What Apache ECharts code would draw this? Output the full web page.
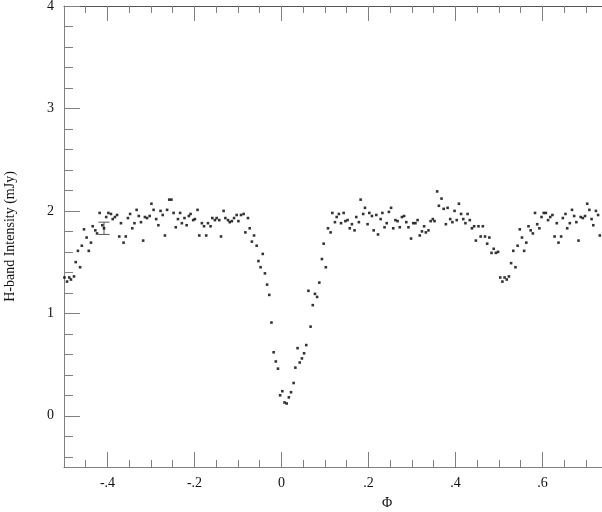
<!DOCTYPE html>
<html>
<head>
<meta charset="utf-8">
<script src="https://cdn.jsdelivr.net/npm/echarts@6/dist/echarts.min.js"></script>
<style>html,body{margin:0;padding:0;background:#fff}#c{width:602px;height:512px}</style>
</head>
<body>
<div id="c"></div>
<script>
// Phase (Φ) of each observation
const phase = [
-0.499,-0.493,-0.488,-0.484,-0.477,-0.473,-0.468,-0.463,-0.459,-0.454,-0.448,-0.443,-0.438,-0.434,-0.428,-0.424,
-0.418,-0.412,-0.408,-0.403,-0.398,-0.392,-0.388,-0.383,-0.378,-0.373,-0.369,-0.363,-0.358,-0.353,-0.348,-0.343,
-0.338,-0.333,-0.328,-0.323,-0.318,-0.314,-0.309,-0.303,-0.299,-0.294,-0.288,-0.283,-0.278,-0.273,-0.268,-0.263,
-0.258,-0.253,-0.248,-0.243,-0.238,-0.233,-0.229,-0.223,-0.218,-0.213,-0.209,-0.203,-0.199,-0.193,-0.189,-0.183,
-0.178,-0.173,-0.169,-0.163,-0.159,-0.153,-0.149,-0.143,-0.139,-0.133,-0.129,-0.123,-0.119,-0.114,-0.109,-0.103,
-0.099,-0.093,-0.087,-0.083,-0.077,-0.073,-0.068,-0.063,-0.057,-0.053,-0.048,-0.043,-0.038,-0.033,-0.028,-0.023,
-0.018,-0.013,-0.008,-0.003,0.002,0.007,0.012,0.017,0.022,0.028,0.032,0.037,0.042,0.047,0.052,0.057,
0.062,0.067,0.072,0.077,0.082,0.087,0.093,0.097,0.102,0.107,0.113,0.117,0.123,0.127,0.132,0.137,
0.143,0.147,0.152,0.157,0.162,0.168,0.172,0.178,0.182,0.188,0.192,0.198,0.202,0.208,0.212,0.218,
0.222,0.228,0.232,0.237,0.242,0.247,0.252,0.257,0.262,0.267,0.272,0.277,0.282,0.287,0.292,0.298,
0.303,0.308,0.313,0.318,0.323,0.328,0.332,0.338,0.343,0.348,0.352,0.358,0.362,0.368,0.373,0.378,
0.382,0.388,0.393,0.398,0.403,0.408,0.413,0.418,0.423,0.428,0.433,0.438,0.443,0.447,0.453,0.458,
0.463,0.468,0.473,0.478,0.483,0.488,0.493,0.498,0.503,0.508,0.513,0.518,0.523,0.528,0.533,0.538,
0.543,0.548,0.553,0.558,0.563,0.568,0.573,0.578,0.583,0.588,0.593,0.598,0.603,0.608,0.613,0.618,
0.623,0.628,0.633,0.637,0.643,0.647,0.653,0.657,0.663,0.668,0.673,0.678,0.683,0.688,0.693,0.698,
0.703,0.708,0.713,0.717,0.723,0.728,0.732
];
// H-band intensity (mJy)
const intensity = [
1.35,1.31,1.35,1.33,1.36,1.50,1.61,1.45,1.66,1.82,1.74,1.61,1.69,1.85,1.81,1.78,
1.98,1.86,1.83,1.94,1.98,1.97,1.92,1.94,1.96,1.75,1.88,1.69,1.75,1.93,1.97,1.83,
1.88,2.01,1.95,1.89,1.71,1.94,1.93,1.95,2.07,2.01,1.92,1.86,2.00,1.96,1.76,2.01,
2.11,2.11,1.98,1.84,1.92,1.98,1.88,1.93,1.86,1.95,1.97,1.91,1.92,2.01,1.76,1.88,
1.85,1.76,1.88,1.85,1.93,1.91,1.93,1.91,1.75,2.00,1.93,1.91,1.89,1.90,1.93,1.96,
1.90,1.96,1.97,1.79,1.93,1.83,1.70,1.76,1.66,1.51,1.45,1.58,1.39,1.28,1.18,0.91,
0.62,0.53,0.46,0.20,0.24,0.13,0.12,0.18,0.23,0.32,0.47,0.66,0.52,0.56,0.61,0.69,
1.22,0.87,1.08,1.19,1.16,1.30,1.53,1.68,1.45,1.83,1.79,1.98,1.89,1.94,1.97,1.88,
1.98,1.90,1.91,1.83,1.87,1.81,1.94,1.89,2.11,1.97,2.03,1.87,1.98,1.95,1.81,1.96,
1.77,1.92,1.98,1.84,1.88,1.99,2.03,1.83,1.91,1.90,1.84,1.94,1.95,1.89,1.84,1.73,
1.88,1.88,1.91,1.76,1.80,1.85,1.79,1.81,1.90,1.92,1.90,2.19,2.05,2.12,2.02,1.87,
2.03,1.92,1.89,2.00,1.91,2.07,1.97,1.92,1.88,1.97,1.91,1.83,1.85,1.71,1.85,1.75,
1.85,1.75,1.68,1.74,1.59,1.63,1.59,1.60,1.35,1.31,1.35,1.33,1.36,1.49,1.61,1.45,
1.66,1.82,1.74,1.61,1.69,1.85,1.81,1.78,1.98,1.87,1.83,1.94,1.98,1.98,1.91,1.94,
1.96,1.75,1.88,1.69,1.75,1.93,1.97,1.83,1.88,2.01,1.95,1.89,1.71,1.94,1.93,1.95,
2.07,2.01,1.92,1.86,2.00,1.96,1.76
];
// representative error bar
const errPhase = [-0.408];
const errLow = [1.77];
const errHigh = [1.89];

// ticks and labels
const xMajorTicks = [-0.4, -0.2, 0, 0.2, 0.4, 0.6];
const xTickLabels = ['-.4', '-.2', '0', '.2', '.4', '.6'];
const xMinorStep = 0.05;
const yMajorTicks = [0, 1, 2, 3, 4];
const yTickLabels = ['0', '1', '2', '3', '4'];
const yMinorTicks = [-0.4,-0.2,0.2,0.4,0.6,0.8,1.2,1.4,1.6,1.8,2.2,2.4,2.6,2.8,3.2,3.4,3.6,3.8];

const X_MIN = -0.5, X_MAX = 0.737, Y_MIN = -0.5, Y_MAX = 4;
const FONT = '"Liberation Serif", "DejaVu Serif", serif';
const AX = '#808080';

function xMajor(pos, labels) {
  return {
    type: 'value', position: pos, min: X_MIN, max: X_MAX,
    axisLine: { show: true, onZero: false, lineStyle: { color: pos === 'top' ? '#555' : AX, width: 1 } },
    axisTick: { show: true, inside: true, length: 15, customValues: xMajorTicks, lineStyle: { color: AX, width: 1 } },
    axisLabel: labels ? {
      show: true, customValues: xMajorTicks, margin: 9, color: '#111', fontFamily: FONT, fontSize: 14,
      formatter: v => { const i = xMajorTicks.findIndex(t => Math.abs(t - v) < 1e-9); return i >= 0 ? xTickLabels[i] : ''; }
    } : { show: false },
    splitLine: { show: false }
  };
}
function xMinor(pos) {
  return {
    type: 'value', position: pos, min: X_MIN, max: X_MAX, interval: xMinorStep,
    axisLine: { show: false, onZero: false },
    axisTick: { show: true, inside: true, length: 7, lineStyle: { color: AX, width: 1 } },
    axisLabel: { show: false },
    splitLine: { show: false }
  };
}
function yAxisDef(ticks, len, line, labels) {
  return {
    type: 'value', position: 'left', min: Y_MIN, max: Y_MAX,
    name: labels ? 'H-band Intensity (mJy)' : '',
    nameLocation: 'middle', nameGap: 47, nameRotate: 90,
    nameTextStyle: { fontFamily: FONT, fontSize: 14, color: '#111' },
    axisLine: { show: line, onZero: false, lineStyle: { color: AX, width: 1 } },
    axisTick: { show: true, inside: true, length: len, customValues: ticks, lineStyle: { color: AX, width: 1 } },
    axisLabel: labels ? {
      show: true, customValues: ticks, margin: 10, color: '#111', fontFamily: FONT, fontSize: 14,
      formatter: v => { const i = yMajorTicks.findIndex(t => Math.abs(t - v) < 1e-9); return i >= 0 ? yTickLabels[i] : ''; }
    } : { show: false },
    splitLine: { show: false }
  };
}

const chart = echarts.init(document.getElementById('c'), null, { renderer: 'canvas' });
chart.setOption({
  animation: false,
  backgroundColor: '#fff',
  grid: { left: 64, right: 0, top: 6, bottom: 45, containLabel: false, outerBoundsMode: 'none' },
  xAxis: [
    xMajor('bottom', true),
    xMinor('bottom'),
    xMajor('top', false),
    xMinor('top')
  ],
  yAxis: [
    yAxisDef(yMajorTicks, 16, true, true),
    yAxisDef(yMinorTicks, 9, false, false)
  ],
  graphic: [{
    type: 'text', left: 382, top: 496,
    style: { text: 'Φ', font: '14px ' + FONT, fill: '#111' }
  }],
  series: [
    {
      type: 'scatter', xAxisIndex: 0, yAxisIndex: 0,
      symbol: 'rect', symbolSize: 2.6,
      itemStyle: { color: '#000' },
      data: phase.map((p, i) => [p, intensity[i]])
    },
    {
      type: 'custom', xAxisIndex: 0, yAxisIndex: 0,
      data: errPhase.map((p, i) => [p, errLow[i], errHigh[i]]),
      renderItem: (params, api) => {
        const lo = api.coord([api.value(0), api.value(1)]);
        const hi = api.coord([api.value(0), api.value(2)]);
        const w = 5.5;
        const st = { stroke: '#555', lineWidth: 1 };
        return { type: 'group', children: [
          { type: 'line', shape: { x1: lo[0], y1: lo[1], x2: hi[0], y2: hi[1] }, style: st },
          { type: 'line', shape: { x1: lo[0] - w, y1: lo[1], x2: lo[0] + w, y2: lo[1] }, style: st },
          { type: 'line', shape: { x1: hi[0] - w, y1: hi[1], x2: hi[0] + w, y2: hi[1] }, style: st }
        ]};
      }
    }
  ]
});
</script>
</body>
</html>
